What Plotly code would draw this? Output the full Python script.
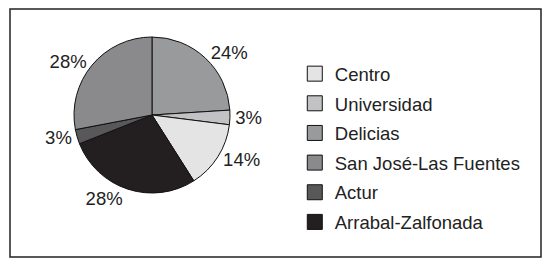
import plotly.graph_objects as go

# Slices in clockwise order from 12 o'clock
pie_labels = ["Delicias", "Universidad", "Centro", "Arrabal-Zalfonada", "Actur", "San José-Las Fuentes"]
pie_values = [24, 3, 14, 28, 3, 28]

# Legend order and colours
legend_labels = ["Centro", "Universidad", "Delicias", "San José-Las Fuentes", "Actur", "Arrabal-Zalfonada"]
legend_colors = ["#e4e4e4", "#c2c2c4", "#999a9c", "#8a8a8c", "#58585a", "#231f20"]
color_map = dict(zip(legend_labels, legend_colors))

FONT = "Liberation Sans, Arial, sans-serif"
W, H = 551, 265

fig = go.Figure()
fig.add_trace(go.Pie(
    labels=pie_labels,
    values=pie_values,
    sort=False,
    direction="clockwise",
    rotation=0,
    marker=dict(colors=[color_map[l] for l in pie_labels], line=dict(color="#111111", width=1)),
    texttemplate="%{value}%",
    textposition="outside",
    textfont=dict(size=18.5, color="#222222", family=FONT),
    showlegend=False,
    hoverinfo="label+value",
    domain=dict(x=[(152 - 78) / W, (152 + 78) / W], y=[1 - 193 / H, 1 - 37 / H]),
))

for i, (lab, col) in enumerate(zip(legend_labels, legend_colors)):
    fig.add_trace(go.Scatter(
        x=[None], y=[None], mode="markers", name=lab,
        legendgroup=f"g{i}",
        marker=dict(symbol="square", size=15, color=col, line=dict(color="#111111", width=1)),
    ))

fig.update_layout(
    width=W, height=H,
    margin=dict(l=0, r=0, t=0, b=0),
    paper_bgcolor="white", plot_bgcolor="white",
    xaxis=dict(visible=False), yaxis=dict(visible=False),
    legend=dict(
        x=0.535, y=0.792, xanchor="left", yanchor="top",
        font=dict(size=18.5, color="#222222", family=FONT),
        tracegroupgap=2.6, traceorder="grouped",
        bgcolor="rgba(0,0,0,0)",
    ),
    shapes=[dict(type="rect", xref="paper", yref="paper",
                 x0=10 / W, x1=541 / W, y0=1 - 257 / H, y1=1 - 9 / H,
                 line=dict(color="#222222", width=1.5))],
)

fig.write_html("out.html", config={"displayModeBar": False},
               post_script="document.body.style.margin='0px';")
